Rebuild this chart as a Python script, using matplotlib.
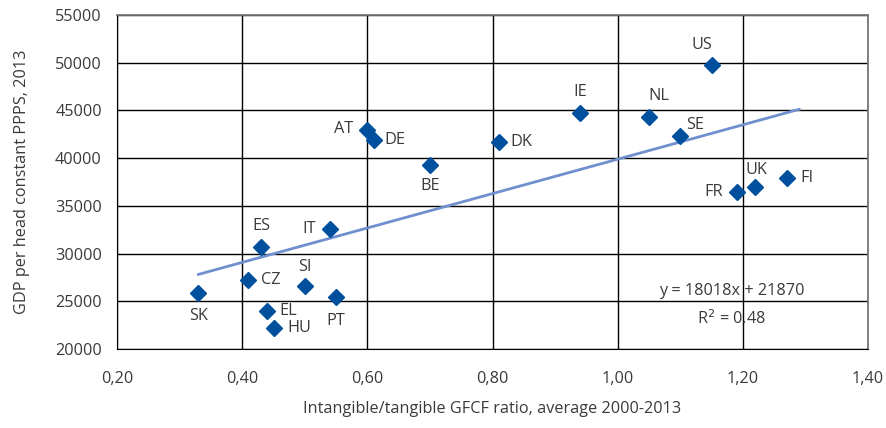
import matplotlib.pyplot as plt
from matplotlib.ticker import FuncFormatter

countries = ["US", "IE", "NL", "SE", "DK", "AT", "DE", "BE", "FR", "UK",
             "FI", "ES", "IT", "SK", "CZ", "SI", "PT", "EL", "HU"]
ratio = [1.15, 0.94, 1.05, 1.10, 0.81, 0.60, 0.61, 0.70, 1.19, 1.22,
         1.27, 0.43, 0.54, 0.33, 0.41, 0.50, 0.55, 0.44, 0.45]
gdp = [49800, 44700, 44300, 42300, 41700, 42900, 41900, 39300, 36500, 37000,
       37900, 30700, 32600, 25900, 27200, 26600, 25400, 24000, 22200]

# linear trend as reported
slope, intercept, r2 = 18018, 21870, 0.48
trend_x = [min(ratio), 1.29]

# label placement: (dx, dy) in points, horizontal alignment
label_pos = {
    "US": (-7, 14, "center"), "IE": (0, 15, "center"), "NL": (7, 15, "center"),
    "SE": (11, 8, "center"), "DK": (8, 0, "left"), "AT": (-10, 1, "right"),
    "DE": (8, 0, "left"), "BE": (0, -15, "center"), "FR": (-10, 0, "right"),
    "UK": (1, 12, "center"), "FI": (10, 0, "left"), "ES": (0, 15, "center"),
    "IT": (-10, 0, "right"), "SK": (0, -17, "center"), "CZ": (9, 0, "left"),
    "SI": (0, 14, "center"), "PT": (0, -17, "center"), "EL": (9, 0, "left"),
    "HU": (10, 0, "left"),
}

plt.rcParams['font.family'] = ['Open Sans', 'DejaVu Sans']
text_col = "#3a3a3a"
fs = 11.7

fig = plt.figure(figsize=(8.87, 4.28), dpi=100)
ax = fig.add_axes([0.132, 0.1846, 0.8466, 0.7804])

ax.set_xlim(0.2, 1.4)
ax.set_ylim(20000, 55000)
ax.set_xticks([0.2, 0.4, 0.6, 0.8, 1.0, 1.2, 1.4])
ax.set_yticks(range(20000, 55001, 5000))
ax.xaxis.set_major_formatter(FuncFormatter(lambda v, p: f"{v:.2f}".replace(".", ",")))
ax.grid(True, color="black", linewidth=1.0)
ax.set_axisbelow(True)
ax.tick_params(length=0, labelsize=fs, labelcolor=text_col)
ax.tick_params(axis="x", pad=16)
ax.tick_params(axis="y", pad=11)
for side in ["left", "bottom"]:
    ax.spines[side].set_color("black")
for side in ["top", "right"]:
    ax.spines[side].set_color("#777777")
    ax.spines[side].set_linewidth(1.3)

ax.plot(trend_x, [slope * v + intercept for v in trend_x],
        color="#6f8fcf", linewidth=2, zorder=2)
ax.plot(ratio, gdp, linestyle="none", marker="D", markersize=8,
        color="#00509e", markeredgecolor="#00509e", zorder=3)

for c, xv, yv in zip(countries, ratio, gdp):
    dx, dy, ha = label_pos[c]
    ax.annotate(c, (xv, yv), xytext=(dx, dy), textcoords="offset points",
                ha=ha, va="center", fontsize=fs, color=text_col)

ax.text(0.8185, 0.175, f"y = {slope}x + {intercept}", transform=ax.transAxes,
        ha="center", va="center", fontsize=fs, color=text_col)
ax.text(0.8185, 0.09, f"R$^2$ = {r2:.2f}", transform=ax.transAxes,
        ha="center", va="center", fontsize=fs, color=text_col)

ax.set_xlabel("Intangible/tangible GFCF ratio, average 2000-2013",
              fontsize=fs, color=text_col, labelpad=10)
ax.set_ylabel("GDP per head constant PPPS, 2013",
              fontsize=fs, color=text_col, labelpad=18)

fig.savefig("out.png", dpi=100)
